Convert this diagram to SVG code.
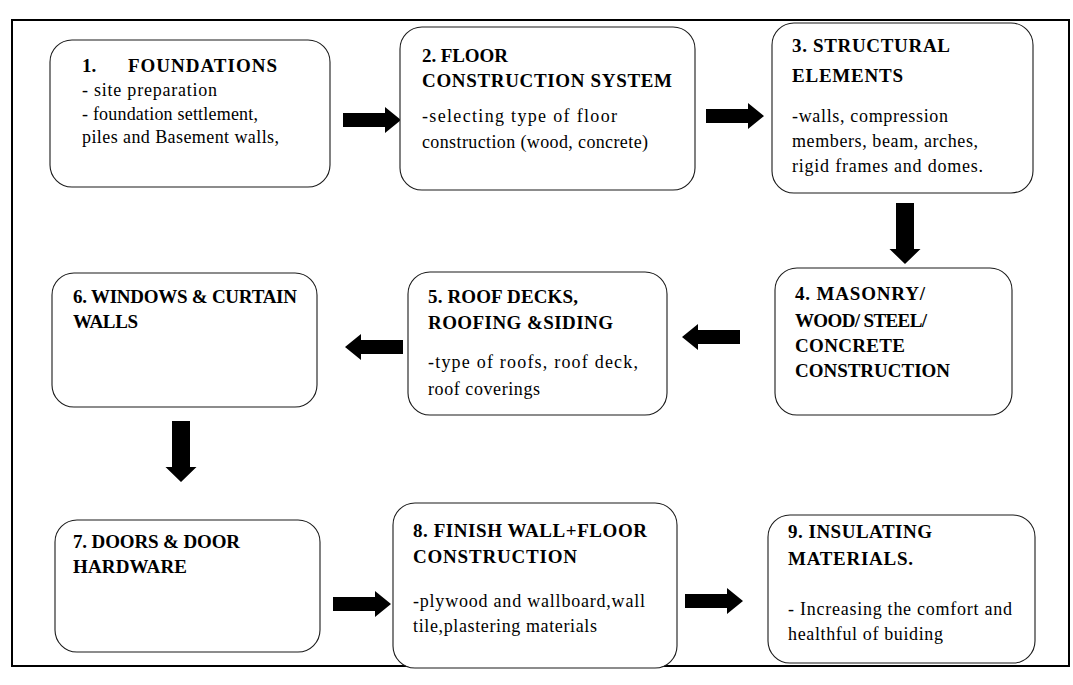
<svg xmlns="http://www.w3.org/2000/svg" width="1073" height="685" viewBox="0 0 1073 685">
<style>
.frame{fill:none;stroke:#000;stroke-width:2}
.box{fill:#fff;stroke:#1a1a1a;stroke-width:1.1}
.t{font-family:"Liberation Serif","Times New Roman",serif;font-size:19px;font-weight:bold;fill:#000}
.b{font-family:"Liberation Serif","Times New Roman",serif;font-size:18px;fill:#000}
.arr{fill:#000}
</style>
<defs>
<path id="ah" d="M0,-7 H42 V-13 L58,0 L42,13 V7 H0 Z"/>
<path id="av" d="M-9,0 V46 H-15.5 L0,61 L15.5,46 H9 V0 Z"/>
</defs>
<rect width="1073" height="685" fill="#fff"/>
<rect class="frame" x="12" y="20" width="1057" height="646"/>

<g id="connectors" class="arr">
<use href="#ah" transform="translate(343,120)"/>
<use href="#ah" transform="translate(706,116)"/>
<use href="#av" transform="translate(905,203)"/>
<use href="#ah" transform="translate(740,337) rotate(180)"/>
<use href="#ah" transform="translate(403,347) rotate(180)"/>
<use href="#av" transform="translate(181,421)"/>
<use href="#ah" transform="translate(333,604)"/>
<use href="#ah" transform="translate(685,601)"/>
</g>

<g id="node1">
<rect class="box" x="50" y="40" width="280" height="147" rx="22"/>
<text class="t" y="72"><tspan x="82">1.</tspan><tspan x="128" textLength="149">FOUNDATIONS</tspan></text>
<text class="b" x="82" y="96" textLength="135">- site preparation</text>
<text class="b" x="82" y="120" textLength="176">- foundation settlement,</text>
<text class="b" x="82" y="143" textLength="197">piles and Basement walls,</text>
</g>

<g id="node2">
<rect class="box" x="400" y="27" width="295" height="163" rx="22"/>
<text class="t" x="422" y="62" textLength="86">2. FLOOR</text>
<text class="t" x="422" y="87" textLength="250">CONSTRUCTION SYSTEM</text>
<text class="b" x="422" y="122" textLength="195">-selecting type of floor</text>
<text class="b" x="422" y="148" textLength="226">construction (wood, concrete)</text>
</g>

<g id="node3">
<rect class="box" x="772" y="23" width="261" height="170" rx="22"/>
<text class="t" x="792" y="52" textLength="158">3. STRUCTURAL</text>
<text class="t" x="792" y="82" textLength="111">ELEMENTS</text>
<text class="b" x="792" y="122" textLength="156">-walls, compression</text>
<text class="b" x="792" y="147" textLength="186">members, beam, arches,</text>
<text class="b" x="792" y="172" textLength="191">rigid frames and domes.</text>
</g>

<g id="node4">
<rect class="box" x="775" y="268" width="237" height="147" rx="22"/>
<text class="t" x="795" y="300" textLength="130">4. MASONRY/</text>
<text class="t" x="795" y="327" textLength="132">WOOD/ STEEL/</text>
<text class="t" x="795" y="352" textLength="110">CONCRETE</text>
<text class="t" x="795" y="377" textLength="155">CONSTRUCTION</text>
</g>

<g id="node5">
<rect class="box" x="408" y="272" width="259" height="143" rx="22"/>
<text class="t" x="428" y="303" textLength="150">5. ROOF DECKS,</text>
<text class="t" x="428" y="329" textLength="185">ROOFING &amp;SIDING</text>
<text class="b" x="428" y="368" textLength="210">-type of roofs, roof deck,</text>
<text class="b" x="428" y="395" textLength="112">roof coverings</text>
</g>

<g id="node6">
<rect class="box" x="52" y="273" width="265" height="134" rx="22"/>
<text class="t" x="73" y="303" textLength="224">6. WINDOWS &amp; CURTAIN</text>
<text class="t" x="73" y="328" textLength="65">WALLS</text>
</g>

<g id="node7">
<rect class="box" x="55" y="520" width="265" height="132" rx="22"/>
<text class="t" x="73" y="548" textLength="167">7. DOORS &amp; DOOR</text>
<text class="t" x="73" y="573" textLength="114">HARDWARE</text>
</g>

<g id="node8">
<rect class="box" x="393" y="503" width="284" height="165" rx="22"/>
<text class="t" x="413" y="537" textLength="234">8. FINISH WALL+FLOOR</text>
<text class="t" x="413" y="563" textLength="164">CONSTRUCTION</text>
<text class="b" x="413" y="607" textLength="232">-plywood and wallboard,wall</text>
<text class="b" x="413" y="632" textLength="184">tile,plastering materials</text>
</g>

<g id="node9">
<rect class="box" x="768" y="515" width="267" height="148" rx="22"/>
<text class="t" x="788" y="538" textLength="144">9. INSULATING</text>
<text class="t" x="788" y="565" textLength="125">MATERIALS.</text>
<text class="b" x="788" y="615" textLength="224">- Increasing the comfort and</text>
<text class="b" x="788" y="640" textLength="155">healthful of buiding</text>
</g>
</svg>
